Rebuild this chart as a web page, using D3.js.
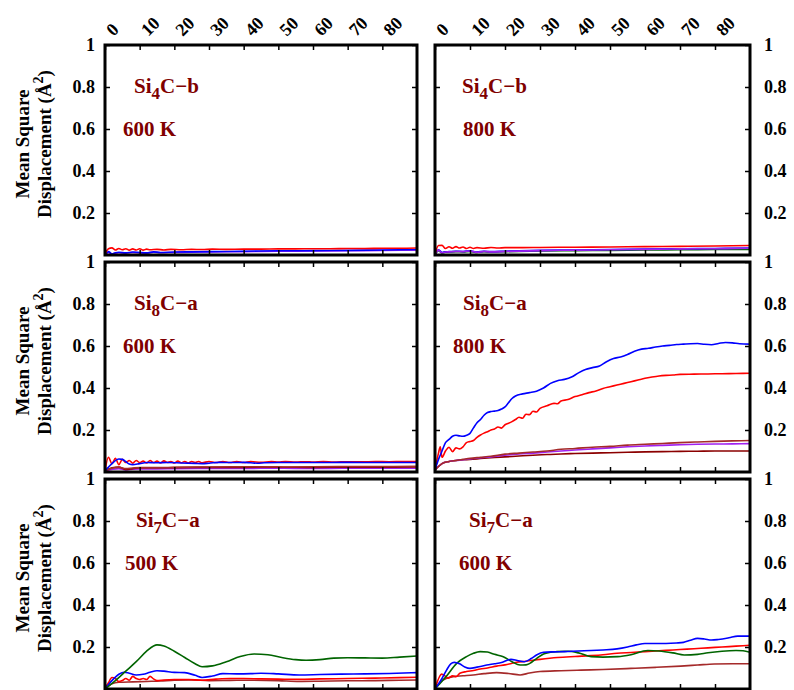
<!doctype html>
<html>
<head>
<script src="https://cdnjs.cloudflare.com/ajax/libs/d3/7.8.5/d3.min.js"></script>
<style>
body { margin: 0; background: #fff; }
text { font-family: "Liberation Serif", "Times New Roman", serif; font-weight: bold; }
</style>
</head>
<body>
<svg width="794" height="690"></svg>
<script>
// tick values
var xTicks = [0, 10, 20, 30, 40, 50, 60, 70, 80];
var yTicks = [0.2, 0.4, 0.6, 0.8, 1];
var yTickLabels = ["0.2", "0.4", "0.6", "0.8", "1"];

// Si4C-b 600 K
var si4cb600Red = [[0,0.005],[1,0.03],[2,0.034],[3,0.024],[4,0.031],[5,0.025],[6,0.03],[7,0.023],[8,0.029],[9,0.024],[10,0.03],[11,0.023],[12,0.028],[13,0.025],[15,0.027],[17,0.024],[19,0.027],[22,0.025],[25,0.027],[28,0.026],[31,0.028],[35,0.027],[40,0.028],[45,0.028],[50,0.029],[55,0.029],[60,0.03],[65,0.03],[70,0.031],[75,0.031],[80,0.032],[85,0.032],[90,0.033]];
var si4cb600Blue = [[0,0],[1,0.016],[2,0.006],[3,0.011],[4,0.013],[6,0.01],[8,0.014],[10,0.012],[12,0.01],[14,0.015],[16,0.012],[20,0.014],[25,0.015],[30,0.016],[40,0.018],[50,0.02],[60,0.021],[70,0.022],[80,0.024],[90,0.026]];
var si4cb600Purple = [[0,0],[1,0.012],[2,0.004],[3,0.009],[4,0.011],[6,0.009],[8,0.012],[10,0.01],[12,0.009],[14,0.013],[16,0.011],[20,0.012],[25,0.013],[30,0.015],[40,0.016],[50,0.018],[60,0.019],[70,0.02],[80,0.022],[90,0.023]];

// Si4C-b 800 K
var si4cb800Red = [[0,0.005],[1,0.045],[2,0.046],[3,0.031],[4,0.039],[5,0.032],[6,0.04],[7,0.033],[8,0.038],[9,0.031],[10,0.037],[11,0.031],[12,0.035],[14,0.032],[16,0.036],[18,0.033],[20,0.035],[25,0.035],[30,0.036],[40,0.037],[50,0.038],[60,0.04],[70,0.041],[80,0.043],[90,0.045]];
var si4cb800Green = [[0,0],[1,0.02],[2,0.01],[3,0.013],[4,0.014],[6,0.016],[8,0.015],[10,0.017],[12,0.012],[14,0.016],[16,0.014],[20,0.016],[30,0.019],[40,0.021],[50,0.022],[60,0.024],[70,0.025],[80,0.026],[90,0.027]];
var si4cb800Blue = [[0,0],[1,0.025],[2,0.012],[3,0.015],[4,0.016],[6,0.018],[8,0.017],[10,0.02],[12,0.014],[14,0.018],[16,0.016],[20,0.018],[30,0.022],[40,0.024],[50,0.026],[60,0.028],[70,0.03],[80,0.031],[90,0.033]];
var si4cb800Purple = [[0,0],[1,0.023],[2,0.01],[3,0.014],[4,0.015],[6,0.017],[8,0.016],[10,0.019],[12,0.013],[14,0.017],[16,0.015],[20,0.017],[30,0.021],[40,0.023],[50,0.025],[60,0.027],[70,0.029],[80,0.03],[90,0.032]];

// Si8C-a 600 K
var si8ca600Red = [[0,0.005],[1,0.07],[2,0.04],[3,0.065],[4,0.035],[5,0.06],[6,0.045],[7,0.055],[8,0.042],[9,0.055],[10,0.045],[11,0.052],[12,0.043],[13,0.055],[14,0.045],[15,0.052],[16,0.043],[17,0.053],[18,0.045],[19,0.05],[20,0.043],[21,0.052],[22,0.044],[23,0.05],[24,0.043],[25,0.05],[26,0.045],[27,0.05],[28,0.044],[30,0.05],[32,0.045],[34,0.05],[36,0.045],[38,0.05],[40,0.045],[42,0.05],[45,0.046],[48,0.05],[50,0.047],[52,0.05],[55,0.047],[58,0.049],[60,0.047],[63,0.05],[66,0.047],[70,0.049],[74,0.048],[78,0.05],[82,0.049],[86,0.05],[90,0.05]];
var si8ca600Blue = [[0,0.005],[2,0.04],[4,0.062],[5,0.06],[6,0.05],[7,0.038],[8,0.035],[10,0.04],[12,0.045],[15,0.044],[18,0.045],[22,0.043],[26,0.041],[28,0.04],[30,0.042],[33,0.046],[36,0.045],[40,0.046],[42,0.044],[44,0.042],[46,0.044],[50,0.045],[60,0.045],[70,0.046],[80,0.045],[90,0.045]];
var si8ca600Brown = [[0,0.005],[2,0.018],[4,0.022],[6,0.016],[8,0.019],[10,0.021],[15,0.021],[20,0.022],[30,0.024],[40,0.025],[50,0.024],[60,0.025],[70,0.026],[80,0.026],[90,0.027]];
var si8ca600Purple = [[0,0.005],[2,0.012],[4,0.016],[6,0.01],[8,0.013],[10,0.015],[15,0.015],[20,0.016],[30,0.017],[40,0.017],[50,0.018],[60,0.017],[70,0.018],[80,0.018],[90,0.018]];
var si8ca600DarkRed = [[0,0.005],[2,0.02],[4,0.024],[6,0.012],[8,0.016],[10,0.02],[15,0.02],[20,0.021],[30,0.022],[40,0.022],[50,0.023],[60,0.022],[70,0.023],[80,0.023],[90,0.024]];

// Si8C-a 800 K
var si8ca800Blue = [[0,0.01],[1,0.06],[2,0.1],[3,0.14],[4,0.155],[5,0.17],[6,0.175],[7,0.172],[8,0.17],[9,0.175],[10,0.184],[11,0.21],[12,0.235],[13,0.25],[14,0.27],[15,0.283],[16,0.288],[17,0.29],[18,0.293],[19,0.3],[20,0.31],[21,0.33],[22,0.35],[23,0.362],[25,0.372],[27,0.378],[29,0.385],[31,0.4],[33,0.422],[35,0.435],[37,0.441],[39,0.452],[41,0.472],[43,0.488],[45,0.497],[47,0.505],[49,0.525],[51,0.54],[53,0.548],[55,0.56],[57,0.575],[59,0.585],[61,0.589],[63,0.595],[65,0.6],[67,0.603],[69,0.607],[71,0.609],[73,0.611],[75,0.612],[77,0.608],[79,0.606],[81,0.612],[83,0.617],[85,0.615],[87,0.611],[90,0.609]];
var si8ca800Red = [[0,0.01],[1,0.09],[1.5,0.12],[2,0.07],[3,0.1],[4,0.118],[5,0.097],[6,0.115],[7,0.11],[8,0.12],[9,0.14],[10,0.145],[11,0.15],[12,0.165],[13,0.176],[14,0.185],[15,0.192],[16,0.2],[17,0.205],[18,0.214],[19,0.209],[20,0.225],[21,0.232],[22,0.24],[23,0.25],[24,0.261],[25,0.256],[26,0.275],[27,0.273],[28,0.289],[29,0.286],[30,0.303],[32,0.315],[34,0.327],[35,0.325],[36,0.338],[38,0.345],[40,0.359],[42,0.368],[44,0.378],[46,0.386],[48,0.398],[50,0.406],[52,0.414],[54,0.422],[56,0.43],[58,0.438],[60,0.446],[62,0.452],[64,0.457],[66,0.46],[68,0.462],[70,0.465],[74,0.466],[78,0.467],[82,0.468],[86,0.469],[90,0.47]];
var si8ca800Brown = [[0,0.01],[2,0.04],[4,0.05],[6,0.055],[8,0.06],[10,0.065],[13,0.07],[16,0.075],[20,0.085],[24,0.09],[28,0.095],[32,0.1],[36,0.108],[40,0.112],[45,0.118],[50,0.122],[55,0.128],[60,0.132],[65,0.136],[70,0.14],[75,0.143],[80,0.146],[85,0.148],[90,0.15]];
var si8ca800Purple = [[0,0.01],[2,0.04],[4,0.05],[6,0.055],[8,0.058],[10,0.062],[13,0.068],[16,0.072],[20,0.08],[24,0.086],[28,0.09],[32,0.095],[36,0.1],[40,0.105],[45,0.11],[50,0.115],[55,0.12],[60,0.124],[65,0.127],[70,0.13],[75,0.132],[80,0.133],[85,0.134],[90,0.135]];
var si8ca800DarkRed = [[0,0.01],[2,0.04],[4,0.05],[6,0.055],[8,0.058],[10,0.06],[13,0.064],[16,0.068],[20,0.072],[24,0.076],[28,0.08],[32,0.083],[36,0.086],[40,0.088],[45,0.09],[50,0.092],[55,0.094],[60,0.096],[65,0.097],[70,0.098],[75,0.099],[80,0.1],[85,0.1],[90,0.1]];

// Si7C-a 500 K
var si7ca500Green = [[0,0],[3,0.04],[6,0.085],[9,0.13],[12,0.18],[14,0.205],[15,0.21],[17,0.205],[20,0.18],[23,0.15],[26,0.12],[28,0.106],[31,0.11],[35,0.13],[39,0.155],[43,0.167],[47,0.163],[51,0.15],[55,0.14],[58,0.137],[62,0.14],[66,0.147],[70,0.149],[75,0.148],[80,0.147],[85,0.152],[90,0.157]];
var si7ca500Blue = [[0,0],[2,0.04],[4,0.07],[5.5,0.08],[7,0.075],[9,0.067],[11,0.07],[13,0.08],[15,0.087],[17,0.085],[20,0.079],[23,0.078],[26,0.065],[28,0.055],[31,0.062],[34,0.073],[38,0.072],[42,0.073],[45,0.075],[50,0.072],[56,0.067],[62,0.069],[68,0.071],[75,0.072],[82,0.074],[90,0.078]];
var si7ca500Red = [[0,0],[1,0.03],[2,0.055],[3,0.05],[4,0.035],[5,0.04],[6,0.05],[7,0.042],[8,0.06],[9,0.05],[10,0.045],[11,0.05],[12,0.045],[13,0.06],[14,0.048],[15,0.04],[17,0.043],[20,0.045],[24,0.045],[28,0.042],[32,0.047],[36,0.05],[40,0.05],[45,0.048],[50,0.047],[56,0.046],[62,0.048],[70,0.05],[78,0.052],[85,0.054],[90,0.056]];
var si7ca500Brown = [[0,0],[2,0.025],[4,0.032],[8,0.034],[12,0.036],[16,0.038],[20,0.042],[25,0.043],[30,0.04],[36,0.041],[42,0.042],[50,0.04],[56,0.036],[62,0.037],[70,0.039],[78,0.04],[85,0.042],[90,0.043]];

// Si7C-a 600 K
var si7ca600Blue = [[0,0],[2,0.05],[3.3,0.09],[4.5,0.12],[5.5,0.127],[7,0.12],[8.5,0.105],[10,0.098],[12,0.104],[14.8,0.114],[17,0.12],[19,0.126],[21.7,0.141],[23.5,0.136],[25.5,0.13],[27.5,0.145],[29,0.162],[31,0.175],[34,0.177],[37,0.178],[41,0.181],[44.6,0.183],[48,0.186],[52,0.191],[55,0.2],[57.5,0.21],[60,0.217],[63,0.217],[66,0.217],[69,0.219],[71,0.222],[73,0.232],[75,0.241],[77,0.238],[79,0.233],[81,0.236],[84,0.244],[86.5,0.252],[90,0.252]];
var si7ca600Red = [[0,0],[1.9,0.071],[3,0.06],[3.8,0.052],[5,0.063],[6,0.058],[7.1,0.075],[9,0.083],[11,0.088],[12.9,0.095],[15,0.1],[17.6,0.109],[20,0.115],[23.3,0.127],[26,0.132],[30,0.141],[35,0.15],[40,0.155],[44.6,0.159],[48,0.163],[52,0.17],[56,0.174],[60,0.178],[64,0.182],[68,0.186],[72,0.19],[76,0.194],[80,0.198],[84,0.202],[88,0.206],[90,0.208]];
var si7ca600Green = [[0,0],[3.3,0.062],[6.2,0.122],[9,0.154],[11,0.17],[12.9,0.178],[15,0.176],[17,0.165],[19.5,0.154],[22,0.13],[24.3,0.114],[26,0.115],[27.1,0.122],[29,0.145],[31,0.167],[33,0.175],[34.8,0.178],[38,0.18],[41,0.172],[44.6,0.154],[48,0.152],[52.2,0.154],[56,0.163],[60.8,0.183],[64,0.181],[68,0.172],[71.2,0.162],[75,0.165],[78,0.173],[82,0.18],[86,0.183],[88,0.182],[90,0.175]];
var si7ca600Brown = [[0,0],[2,0.04],[5.2,0.059],[8,0.063],[10.9,0.067],[14,0.073],[17.6,0.078],[21,0.074],[24.3,0.067],[27,0.076],[30,0.083],[36,0.087],[41.7,0.09],[48,0.093],[56,0.098],[63,0.103],[70.2,0.109],[75,0.114],[79.8,0.119],[85,0.12],[90,0.12]];

var RED = "#ff0000", BLUE = "#0000ff", PURPLE = "#a020f0", GREEN = "#006400",
    BROWN = "#a52a2a", DARKRED = "#8b0000", LABEL = "#800000";

var panels = [
  {row: 0, col: 0, sub: "4", tail: "C\u2212b", temp: "600 K", nameDx: 29, tempDx: 18,
   series: [[si4cb600Purple, PURPLE], [si4cb600Blue, BLUE], [si4cb600Red, RED]]},
  {row: 0, col: 1, sub: "4", tail: "C\u2212b", temp: "800 K", nameDx: 27, tempDx: 28,
   series: [[si4cb800Green, GREEN], [si4cb800Blue, BLUE], [si4cb800Purple, PURPLE], [si4cb800Red, RED]]},
  {row: 1, col: 0, sub: "8", tail: "C\u2212a", temp: "600 K", nameDx: 29, tempDx: 18,
   series: [[si8ca600Purple, PURPLE], [si8ca600DarkRed, DARKRED], [si8ca600Brown, BROWN], [si8ca600Red, RED], [si8ca600Blue, BLUE]]},
  {row: 1, col: 1, sub: "8", tail: "C\u2212a", temp: "800 K", nameDx: 28, tempDx: 18,
   series: [[si8ca800DarkRed, DARKRED], [si8ca800Purple, PURPLE], [si8ca800Brown, BROWN], [si8ca800Red, RED], [si8ca800Blue, BLUE]]},
  {row: 2, col: 0, sub: "7", tail: "C\u2212a", temp: "500 K", nameDx: 31, tempDx: 20,
   series: [[si7ca500Brown, BROWN], [si7ca500Red, RED], [si7ca500Blue, BLUE], [si7ca500Green, GREEN]]},
  {row: 2, col: 1, sub: "7", tail: "C\u2212a", temp: "600 K", nameDx: 34, tempDx: 24,
   series: [[si7ca600Brown, BROWN], [si7ca600Red, RED], [si7ca600Green, GREEN], [si7ca600Blue, BLUE]]}
];

var colX = [[105, 417], [435, 750]];
var rowTop = [45, 262, 479];
var panelH = 210;

var svg = d3.select("svg");
var yFmt = function(d) { return yTickLabels[yTicks.indexOf(d)]; };

panels.forEach(function(p, i) {
  var x = d3.scaleLinear().domain([0, 90]).range(colX[p.col]);
  var top = rowTop[p.row];
  var y = d3.scaleLinear().domain([0, 1]).range([top + panelH, top]);
  var g = svg.append("g");

  g.append("clipPath").attr("id", "clip" + i)
    .append("rect").attr("x", x(0)).attr("y", top).attr("width", x(90) - x(0)).attr("height", panelH);

  var line = d3.line().x(d => x(d[0])).y(d => y(d[1])).curve(d3.curveMonotoneX);
  g.append("g").attr("clip-path", "url(#clip" + i + ")")
    .selectAll("path").data(p.series).enter()
    .append("path")
    .attr("d", s => line(s[0]))
    .attr("fill", "none")
    .attr("stroke", s => s[1])
    .attr("stroke-width", 1.6)
    .attr("stroke-linejoin", "round");

  // ticks on all four sides, pointing inward
  g.append("g").attr("transform", "translate(" + x(0) + ",0)")
    .call(d3.axisLeft(y).tickValues(yTicks).tickSizeInner(-5).tickSizeOuter(0).tickPadding(10)
      .tickFormat(p.col == 0 ? yFmt : ""));
  g.append("g").attr("transform", "translate(" + x(90) + ",0)")
    .call(d3.axisRight(y).tickValues(yTicks).tickSizeInner(-5).tickSizeOuter(0).tickPadding(14)
      .tickFormat(p.col == 1 ? yFmt : ""));
  var topAx = g.append("g").attr("transform", "translate(0," + top + ")")
    .call(d3.axisTop(x).tickValues(xTicks).tickSizeInner(-5).tickSizeOuter(0)
      .tickFormat(p.row == 0 ? d3.format("d") : ""));
  g.append("g").attr("transform", "translate(0," + (top + panelH) + ")")
    .call(d3.axisBottom(x).tickValues(xTicks).tickSizeInner(-5).tickSizeOuter(0).tickFormat(""));

  g.selectAll(".domain").remove();
  g.selectAll(".tick line").attr("stroke", "#000").attr("stroke-width", 1.5);
  g.selectAll(".tick text").attr("fill", "#000").style("font-size", "18px")
    .style("font-family", "'Liberation Serif', serif").style("font-weight", "bold");

  topAx.selectAll(".tick text")
    .attr("y", 0).attr("dy", null)
    .attr("text-anchor", "start")
    .attr("transform", "translate(8,-8) rotate(-45)");

  g.append("rect")
    .attr("x", x(0)).attr("y", top)
    .attr("width", x(90) - x(0)).attr("height", panelH)
    .attr("fill", "none").attr("stroke", "#000").attr("stroke-width", 3);

  // annotations
  var name = g.append("text")
    .attr("x", x(0) + p.nameDx).attr("y", top + 48)
    .attr("fill", LABEL).style("font-size", "21px");
  name.append("tspan").text("Si");
  name.append("tspan").attr("dy", 6).style("font-size", "17px").text(p.sub);
  name.append("tspan").attr("dy", -6).text(p.tail);

  g.append("text")
    .attr("x", x(0) + p.tempDx).attr("y", top + 91)
    .attr("fill", LABEL).style("font-size", "21px")
    .text(p.temp);

  // y title for each row
  if (p.col == 0) {
    var cy = top + panelH / 2 - 6;
    svg.append("text")
      .attr("transform", "translate(29," + cy + ") rotate(-90)")
      .attr("text-anchor", "middle").style("font-size", "19px")
      .text("Mean Square");
    var t2 = svg.append("text")
      .attr("transform", "translate(51," + cy + ") rotate(-90)")
      .attr("text-anchor", "middle").style("font-size", "19px");
    t2.append("tspan").text("Displacement (\u00c5");
    t2.append("tspan").attr("dy", -8).style("font-size", "14px").text("2");
    t2.append("tspan").attr("dy", 8).text(")");
  }
});
</script>
</body>
</html>
